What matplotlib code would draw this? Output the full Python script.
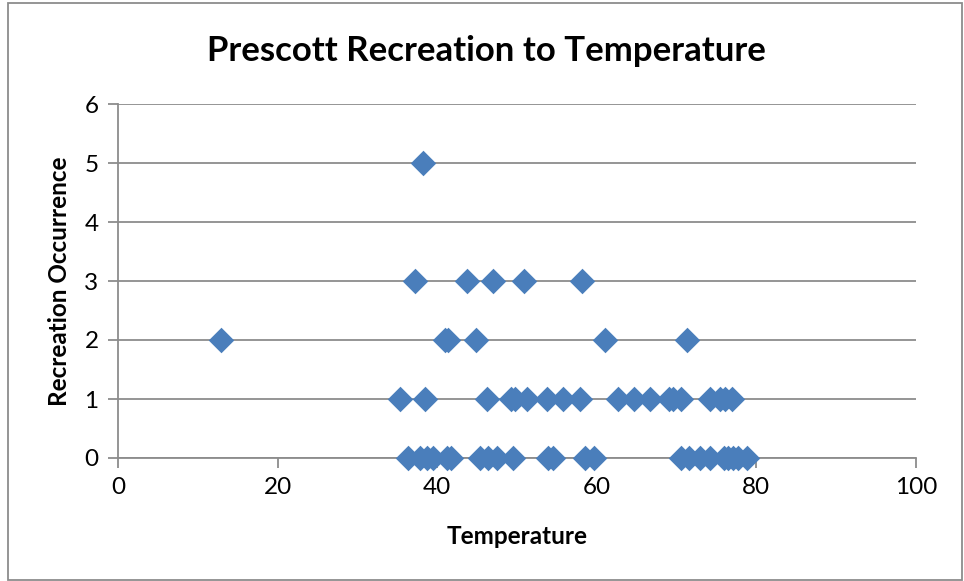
import matplotlib.pyplot as plt
from matplotlib.patches import Rectangle

# temperature values, grouped by recreation occurrence
temp_0 = [36.3, 37.8, 38.7, 39.5, 41.2, 41.7, 45.4, 46.4, 47.5, 49.5, 53.9, 54.5,
          58.5, 59.6, 70.6, 71.5, 72.9, 74.2, 75.9, 76.5, 77.1, 77.7, 78.8]
temp_1 = [35.3, 38.5, 46.2, 49.3, 49.7, 51.2, 53.7, 55.8, 57.9, 62.7, 64.6, 66.7,
          69.0, 69.6, 70.6, 74.2, 75.4, 76.1, 76.9]
temp_2 = [12.9, 41.0, 41.4, 44.9, 61.0, 71.3]
temp_3 = [37.2, 43.7, 47.0, 50.9, 58.2]
temp_5 = [38.2]

temps = temp_0 + temp_1 + temp_2 + temp_3 + temp_5
occurrence = ([0] * len(temp_0) + [1] * len(temp_1) + [2] * len(temp_2)
              + [3] * len(temp_3) + [5] * len(temp_5))

plt.rcParams['font.family'] = ['Lato', 'DejaVu Sans']

fig = plt.figure(figsize=(9.64, 5.81), dpi=100)
ax = fig.add_axes([118 / 964, 1 - 458 / 581, (916 - 118) / 964, (458 - 104) / 581])

ax.scatter(temps, occurrence, marker='D', s=13 ** 2, color='#4a7ebb', zorder=3,
           linewidths=0, clip_on=False)

ax.set_xlim(0, 100)
ax.set_ylim(0, 6)
ax.set_xticks(range(0, 101, 20))
ax.set_yticks(range(0, 7))
ax.grid(axis='y', color='#8c8c8c', linewidth=1.3)
ax.set_axisbelow(True)
for s in ['top', 'right']:
    ax.spines[s].set_visible(False)
for s in ['left', 'bottom']:
    ax.spines[s].set_color('#8c8c8c')
    ax.spines[s].set_linewidth(1.3)
ax.tick_params(length=7, width=1.3, color='#8c8c8c', labelsize=17.5, pad=7)

ax.set_xlabel('Temperature', fontsize=17.5, fontweight='bold', labelpad=19)
ax.set_ylabel('Recreation Occurrence', fontsize=17.5, fontweight='bold', labelpad=10)
fig.text(486 / 964, 1 - 51 / 581, 'Prescott Recreation to Temperature',
         ha='center', va='center', fontsize=25, fontweight='bold')

fig.patches.append(Rectangle((8 / 964, 1 / 581), 954 / 964, 577 / 581,
                             transform=fig.transFigure, fill=False,
                             edgecolor='#8c8c8c', linewidth=1.3))

plt.savefig('out.png', dpi=100)
